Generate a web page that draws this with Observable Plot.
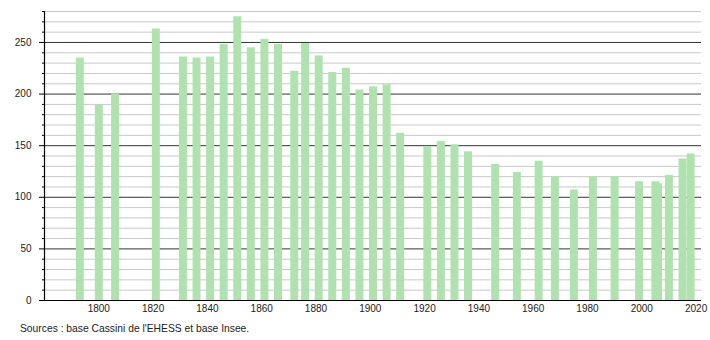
<!DOCTYPE html>
<html>
<head>
<meta charset="utf-8">
<script src="https://cdn.jsdelivr.net/npm/d3@7"></script>
<script src="https://cdn.jsdelivr.net/npm/@observablehq/plot@0.6"></script>
<style>
  body { margin: 0; background: #fff; font-family: "Liberation Sans", Arial, sans-serif; }
  #chart svg { display: block; }
  #caption { font-size: 10.3px; line-height: 14px; margin-top: 4px; padding-left: 20px; color: #222; }
</style>
</head>
<body>
<div id="chart"></div>
<div id="caption">Sources : base Cassini de l'EHESS et base Insee.</div>
<script>
const years = [1793, 1800, 1806, 1821, 1831, 1836, 1841, 1846, 1851, 1856, 1861, 1866, 1872, 1876, 1881, 1886, 1891, 1896, 1901, 1906, 1911, 1921, 1926, 1931, 1936, 1946, 1954, 1962, 1968, 1975, 1982, 1990, 1999, 2005, 2006, 2010, 2015, 2018];
const population = [235, 189, 200, 263, 236, 235, 236, 248, 275, 245, 253, 248, 222, 249, 237, 221, 225, 204, 207, 209, 162, 149, 154, 151, 144, 132, 124, 135, 120, 107, 120, 120, 115, 115, 113, 121, 137, 142];
const xTicks = [1800, 1820, 1840, 1860, 1880, 1900, 1920, 1940, 1960, 1980, 2000, 2020];
const yMajor = [0, 50, 100, 150, 200, 250];
const yMinor = d3.range(10, 290, 10).filter(v => v % 50 !== 0);

const data = years.map((year, i) => ({year, value: population[i]}));

const chart = Plot.plot({
  width: 710,
  height: 318,
  marginLeft: 44,
  marginRight: 9,
  marginTop: 11,
  marginBottom: 18,
  style: {fontFamily: "'Liberation Sans', Arial, sans-serif", fontSize: "10px", color: "#222"},
  x: {domain: [1780, 2022], label: null},
  y: {domain: [0, 280], label: null},
  marks: [
    Plot.ruleY(yMinor, {stroke: "#c8c8c8", strokeWidth: 1}),
    Plot.ruleY(yMajor.filter(v => v > 0), {stroke: "#333", strokeWidth: 1}),
    Plot.ruleX(data, {x: "year", y1: 0, y2: "value", stroke: "#b0e2b0", strokeWidth: 8}),
    Plot.ruleY([0], {stroke: "#000", strokeWidth: 1.2}),
    Plot.ruleX([1780], {stroke: "#000", strokeWidth: 1.2}),
    Plot.axisY(yMinor, {tickSize: 2, text: null, stroke: "#000"}),
    Plot.axisY(yMajor, {tickSize: 5, tickPadding: 8, stroke: "#000", label: null}),
    Plot.axisX(xTicks, {tickSize: 0, tickPadding: 4, tickFormat: d => String(d), label: null})
  ]
});
document.getElementById("chart").appendChild(chart);
</script>
</body>
</html>
